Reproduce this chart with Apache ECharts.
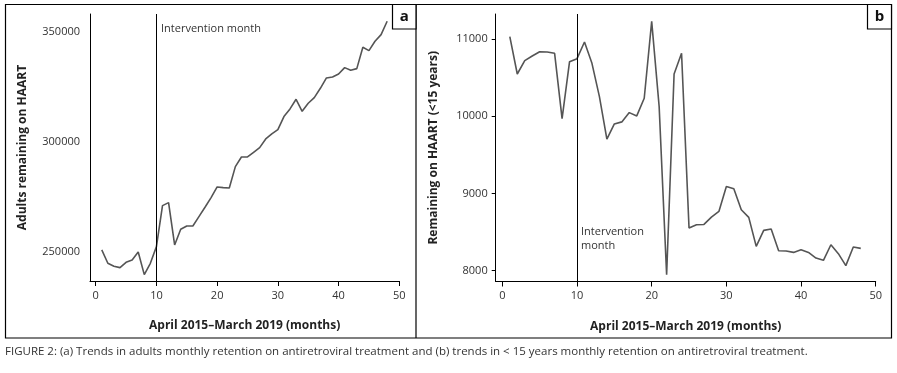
<!DOCTYPE html>
<html><head><meta charset="utf-8">
<script src="https://cdn.jsdelivr.net/npm/echarts@6/dist/echarts.min.js"></script>
<style>html,body{margin:0;padding:0;background:#fff}#c{width:897px;height:373px}</style>
</head><body><div id="c"></div>
<script>
const months = Array.from({length:48},(_,i)=>i+1);
const adults = [251060,245000,243640,243030,245450,246500,250150,239850,245000,252575,
 271200,272570,253330,260450,261970,261970,266200,270450,274850,279700,
 279400,279240,288940,293330,293330,295450,297570,301510,303780,305750,
 311660,315150,319540,314090,317720,320300,324540,329240,329690,331050,
 333930,332720,333480,343170,341660,345900,348930,354990];
const children = [11030,10547,10720,10780,10836,10832,10815,9970,10707,10746,
 10961,10685,10254,9703,9900,9927,10047,10004,10233,11228,
 10125,7948,10547,10815,8552,8595,8599,8694,8767,9091,
 9060,8789,8690,8315,8522,8539,8259,8254,8237,8272,
 8237,8164,8134,8336,8220,8065,8306,8289];
const xTicks = [0,10,20,30,40,50];
const yTicksA = [250000,300000,350000];
const yTicksB = [8000,9000,10000,11000];
const interventionMonth = 10;
const xTitle = 'April 2015\u2013March 2019 (months)';
const yTitleA = 'Adults remaining on HAART';
const yTitleB = 'Remaining on HAART (<15 years)';
const caption = 'FIGURE 2: (a) Trends in adults monthly retention on antiretroviral treatment and (b) trends in < 15 years monthly retention on antiretroviral treatment.';

const FONT = '"Open Sans", "Noto Sans", sans-serif';
const labelStyle = {color:'#333', fontSize:11, fontFamily:FONT, formatter:v=>String(v)};
const nameStyle = {color:'#222', fontSize:12, fontWeight:'bold', fontFamily:FONT};
function xAxis(idx, min){
  return {type:'value', gridIndex:idx, min:min, max:50,
    axisLine:{show:true, onZero:false, lineStyle:{color:'#000', width:1}},
    axisTick:{show:true, length:5, customValues:xTicks, lineStyle:{color:'#000'}},
    axisLabel:Object.assign({customValues:xTicks, margin:9}, labelStyle),
    splitLine:{show:false},
    name:xTitle, nameLocation:'middle', nameGap:39, nameTextStyle:nameStyle};
}
function yAxis(idx, min, max, ticks, title, gap, showTick){
  return {type:'value', gridIndex:idx, min:min, max:max,
    axisLine:{show:true, onZero:false, lineStyle:{color:'#000', width:1}},
    axisTick:{show:showTick, length:4, customValues:ticks, lineStyle:{color:'#000'}},
    axisLabel:Object.assign({customValues:ticks, margin:showTick?8:10}, labelStyle),
    splitLine:{show:false},
    name:title, nameLocation:'middle', nameGap:gap, nameRotate:90, nameTextStyle:nameStyle};
}
const ml = {symbol:'none', silent:true, label:{show:false},
  lineStyle:{color:'#000', width:1, type:'solid'}, data:[{xAxis:interventionMonth}]};

const option = {
  animation:false,
  grid:[
    {left:90, top:14, width:309.3, height:267},
    {left:495.7, top:14, width:380, height:267.5}
  ],
  xAxis:[xAxis(0,-0.94), xAxis(1,-0.89)],
  yAxis:[yAxis(0,236950,358300,yTicksA,yTitleA,61,false),
         yAxis(1,7860,11324,yTicksB,yTitleB,56,true)],
  series:[
    {type:'line', xAxisIndex:0, yAxisIndex:0, data:months.map((m,i)=>[m,adults[i]]),
     showSymbol:false, lineStyle:{color:'#555', width:1.6}, markLine:ml},
    {type:'line', xAxisIndex:1, yAxisIndex:1, data:months.map((m,i)=>[m,children[i]]),
     showSymbol:false, lineStyle:{color:'#555', width:1.6}, markLine:ml}
  ],
  graphic:[
    {type:'rect', shape:{x:5.5, y:4.5, width:886, height:333.5}, style:{fill:'none', stroke:'#000', lineWidth:1.2}},
    {type:'line', shape:{x1:416, y1:4.5, x2:416, y2:338}, style:{stroke:'#000', lineWidth:1.2}},
    {type:'rect', shape:{x:392.5, y:4.5, width:23.5, height:24.5}, style:{fill:'#fff', stroke:'#000', lineWidth:1.2}},
    {type:'text', x:404.2, y:17, style:{text:'a', fill:'#111', font:'bold 15px '+FONT, align:'center', verticalAlign:'middle'}},
    {type:'rect', shape:{x:867.5, y:4.5, width:24, height:24.5}, style:{fill:'#fff', stroke:'#000', lineWidth:1.2}},
    {type:'text', x:879.5, y:17, style:{text:'b', fill:'#111', font:'bold 15px '+FONT, align:'center', verticalAlign:'middle'}},
    {type:'text', x:161, y:29, style:{text:'Intervention month', fill:'#333', font:'11px '+FONT, verticalAlign:'middle'}},
    {type:'text', x:581, y:239, style:{text:'Intervention\nmonth', fill:'#333', font:'11px '+FONT, lineHeight:14, verticalAlign:'middle'}},
    {type:'text', x:5, y:352, style:{text:caption, fill:'#333', font:'11.5px '+FONT, verticalAlign:'middle'}}
  ]
};
const chart = echarts.init(document.getElementById('c'), null, {renderer:'canvas'});
chart.setOption(option);
</script></body></html>
